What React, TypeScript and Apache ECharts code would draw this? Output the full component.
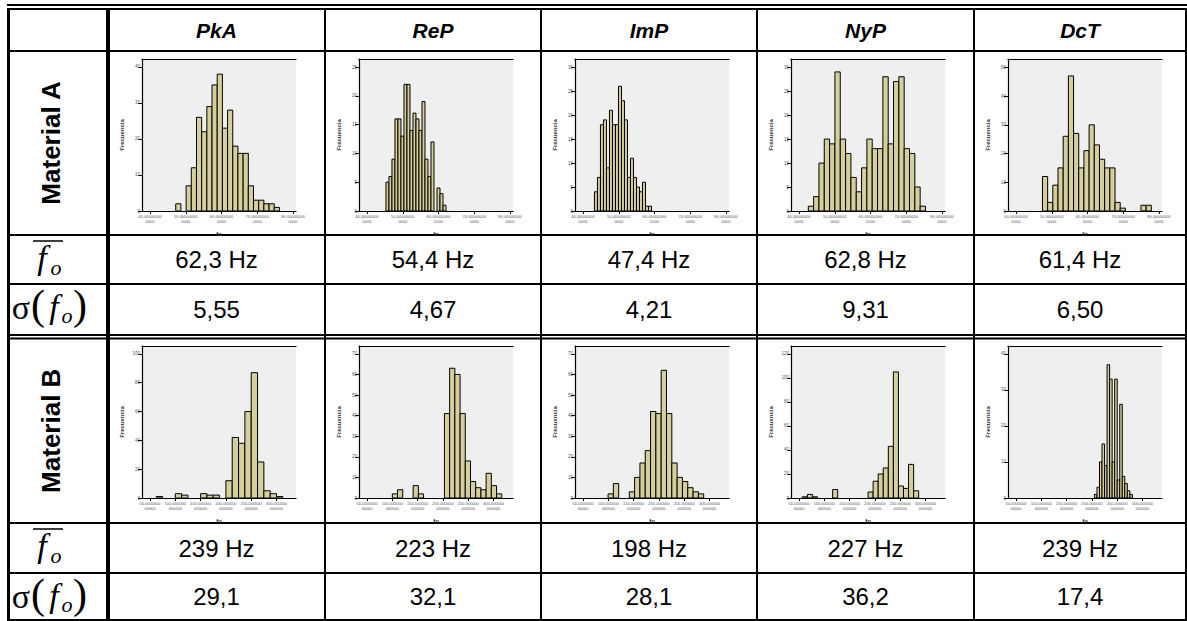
import { useEffect, useRef } from "react";
import * as echarts from "echarts";

const COLUMNS = ["PkA", "ReP", "ImP", "NyP", "DcT"];
const ROWS = ["Material A", "Material B"];
const MEAN_A = ["62,3 Hz", "54,4 Hz", "47,4 Hz", "62,8 Hz", "61,4 Hz"];
const SD_A = ["5,55", "4,67", "4,21", "9,31", "6,50"];
const MEAN_B = ["239 Hz", "223 Hz", "198 Hz", "227 Hz", "239 Hz"];
const SD_B = ["29,1", "32,1", "28,1", "36,2", "17,4"];

const A_X_TICKS = [40, 50, 60, 70, 80];
const A_X_LABELS = ["40,00000000\n0000", "50,00000000\n0000", "60,00000000\n0000", "70,00000000\n0000", "80,00000000\n0000"];
const A_X_RANGE = [37.76, 80.84];
const B_X_TICKS = [50, 100, 150, 200, 250, 300];
const B_X_LABELS = ["50,0000000\n00000", "100,000000\n000000", "150,000000\n000000", "200,000000\n000000", "250,000000\n000000", "300,000000\n000000"];
const B_X_RANGE = [34.2, 338.5];

// Material A histograms: bin start, bin width, counts
const PKA_A_START = 47.2;
const PKA_A_WIDTH = 1.45;
const PKA_A_COUNTS = [2, 0, 7, 12, 26, 22, 29, 35, 38, 23, 28, 18, 16, 16, 7, 3, 3, 2, 2, 1];
const PKA_A_YTICKS = [0, 10, 20, 30, 40];
const PKA_A_YMAX = 42.2;

const REP_A_START = 45.3;
const REP_A_WIDTH = 0.84;
const REP_A_COUNTS = [5, 6, 9, 16, 16, 13, 22, 22, 14, 17, 16, 14, 19, 9, 6, 12, 0, 4, 3, 1];
const REP_A_YTICKS = [0, 5, 10, 15, 20, 25];
const REP_A_YMAX = 26.4;

const IMP_A_START = 43.2;
const IMP_A_WIDTH = 0.84;
const IMP_A_COUNTS = [4, 7, 18, 19, 9, 21, 18, 18, 26, 23, 19, 7, 11, 7, 5, 4, 6, 1, 1];
const IMP_A_YTICKS = [0, 5, 10, 15, 20, 25, 30];
const IMP_A_YMAX = 31.7;

const NYP_A_START = 42.6;
const NYP_A_WIDTH = 1.49;
const NYP_A_COUNTS = [1, 3, 10, 15, 14, 29, 15, 12, 7, 4, 9, 15, 13, 13, 28, 14, 27, 28, 13, 12, 5, 1];
const NYP_A_YTICKS = [0, 5, 10, 15, 20, 25, 30];
const NYP_A_YMAX = 31.7;

const DCT_A_START = 47.4;
const DCT_A_WIDTH = 1.45;
const DCT_A_COUNTS = [12, 3, 9, 15, 26, 47, 27, 15, 21, 30, 23, 18, 15, 15, 3, 1, 0, 0, 0, 2, 2];
const DCT_A_YTICKS = [0, 10, 20, 30, 40, 50];
const DCT_A_YMAX = 52.9;

// Material B histograms
const PKA_B_START = 62.5;
const PKA_B_WIDTH = 12.5;
const PKA_B_COUNTS = [1, 0, 0, 3, 2, 0, 0, 3, 2, 2, 0, 12, 42, 38, 60, 87, 25, 5, 3, 1];
const PKA_B_YTICKS = [0, 20, 40, 60, 80, 100];
const PKA_B_YMAX = 105.5;

const REP_B_START = 100;
const REP_B_WIDTH = 10.3;
const REP_B_COUNTS = [2, 4, 0, 0, 6, 2, 0, 0, 0, 0, 41, 63, 60, 41, 18, 8, 5, 4, 12, 6, 2];
const REP_B_YTICKS = [0, 10, 20, 30, 40, 50, 60, 70];
const REP_B_YMAX = 73.8;

const IMP_B_START = 99.5;
const IMP_B_WIDTH = 10.5;
const IMP_B_COUNTS = [2, 7, 0, 0, 3, 10, 17, 23, 42, 41, 62, 41, 17, 10, 8, 5, 3, 2];
const IMP_B_YTICKS = [0, 10, 20, 30, 40, 50, 60, 70];
const IMP_B_YMAX = 73.8;

const NYP_B_START = 56.5;
const NYP_B_WIDTH = 10;
const NYP_B_COUNTS = [1, 3, 1, 0, 0, 0, 7, 0, 0, 0, 0, 0, 0, 5, 14, 20, 25, 43, 105, 10, 8, 28, 6];
const NYP_B_YTICKS = [0, 20, 40, 60, 80, 100, 120];
const NYP_B_YMAX = 126.6;

const DCT_B_START = 205;
const DCT_B_WIDTH = 5;
const DCT_B_COUNTS = [1, 3, 10, 15, 9, 37, 33, 10, 33, 5, 26, 6, 4, 2, 1];
const DCT_B_YTICKS = [0, 10, 20, 30, 40];
const DCT_B_YMAX = 42.2;

const HISTS = [
  { start: PKA_A_START, width: PKA_A_WIDTH, counts: PKA_A_COUNTS, yTicks: PKA_A_YTICKS, yMax: PKA_A_YMAX, row: 0 },
  { start: REP_A_START, width: REP_A_WIDTH, counts: REP_A_COUNTS, yTicks: REP_A_YTICKS, yMax: REP_A_YMAX, row: 0 },
  { start: IMP_A_START, width: IMP_A_WIDTH, counts: IMP_A_COUNTS, yTicks: IMP_A_YTICKS, yMax: IMP_A_YMAX, row: 0 },
  { start: NYP_A_START, width: NYP_A_WIDTH, counts: NYP_A_COUNTS, yTicks: NYP_A_YTICKS, yMax: NYP_A_YMAX, row: 0 },
  { start: DCT_A_START, width: DCT_A_WIDTH, counts: DCT_A_COUNTS, yTicks: DCT_A_YTICKS, yMax: DCT_A_YMAX, row: 0 },
  { start: PKA_B_START, width: PKA_B_WIDTH, counts: PKA_B_COUNTS, yTicks: PKA_B_YTICKS, yMax: PKA_B_YMAX, row: 1 },
  { start: REP_B_START, width: REP_B_WIDTH, counts: REP_B_COUNTS, yTicks: REP_B_YTICKS, yMax: REP_B_YMAX, row: 1 },
  { start: IMP_B_START, width: IMP_B_WIDTH, counts: IMP_B_COUNTS, yTicks: IMP_B_YTICKS, yMax: IMP_B_YMAX, row: 1 },
  { start: NYP_B_START, width: NYP_B_WIDTH, counts: NYP_B_COUNTS, yTicks: NYP_B_YTICKS, yMax: NYP_B_YMAX, row: 1 },
  { start: DCT_B_START, width: DCT_B_WIDTH, counts: DCT_B_COUNTS, yTicks: DCT_B_YTICKS, yMax: DCT_B_YMAX, row: 1 },
];

// layout
const COL_X = [108, 325, 541, 757, 974, 1186];
const ROW_LINES = { top1: 5, top2: 9, header: 51, aHist: 235, aMean: 284, aSd1: 335, aSd2: 338.5, bHist: 523, bMean: 573, bottom: 620 };
const HIST_TOP = [ROW_LINES.header + 8, ROW_LINES.aSd2 + 7.5];
const BAR_FILL = "#d5cf9c";
const SANS = "Liberation Sans, Arial, sans-serif";
const SERIF = "Liberation Serif, Times New Roman, serif";

function buildOption() {
  const grids: any[] = [];
  const xAxes: any[] = [];
  const yAxes: any[] = [];
  const series: any[] = [];
  HISTS.forEach((h, i) => {
    const col = i % 5;
    const isA = h.row === 0;
    grids.push({
      left: COL_X[col] + 34,
      top: HIST_TOP[h.row],
      width: 154,
      height: 152,
      show: true,
      backgroundColor: "#efefef",
      borderWidth: 0,
      containLabel: false,
    });
    const ticks = isA ? A_X_TICKS : B_X_TICKS;
    const labels = isA ? A_X_LABELS : B_X_LABELS;
    const range = isA ? A_X_RANGE : B_X_RANGE;
    xAxes.push({
      type: "value",
      gridIndex: i,
      min: range[0],
      max: range[1],
      name: "fo",
      nameLocation: "middle",
      nameGap: 20,
      nameTextStyle: { fontSize: 6, fontFamily: SANS, color: "#222", fontWeight: "bold" },
      axisLine: { show: true, onZero: false, lineStyle: { color: "#000", width: 1.2 } },
      axisTick: { show: true, length: 3, lineStyle: { color: "#000", width: 1 }, customValues: ticks },
      axisLabel: {
        show: true,
        customValues: ticks,
        fontSize: 4,
        lineHeight: 5,
        color: "#555",
        fontFamily: SANS,
        margin: 3,
        formatter: (v: number) => labels[ticks.indexOf(Math.round(v))] ?? "",
      },
      splitLine: { show: false },
    });
    xAxes.push({
      type: "value",
      gridIndex: i,
      position: "top",
      min: range[0],
      max: range[1],
      axisLine: { show: true, onZero: false, lineStyle: { color: "#000", width: 1.2 } },
      axisTick: { show: false },
      axisLabel: { show: false },
      splitLine: { show: false },
    });
    yAxes.push({
      type: "value",
      gridIndex: i,
      min: 0,
      max: h.yMax,
      name: "Frecuencia",
      nameLocation: "middle",
      nameGap: 17,
      nameRotate: 90,
      nameTextStyle: { fontSize: 6, fontFamily: SANS, color: "#333", fontWeight: "bold" },
      axisLine: { show: true, lineStyle: { color: "#000", width: 1.2 } },
      axisTick: { show: true, length: 4, lineStyle: { color: "#000", width: 1 }, customValues: h.yTicks },
      axisLabel: { show: true, customValues: h.yTicks, fontSize: 4.5, color: "#555", fontFamily: SANS, margin: 2 },
      splitLine: { show: false },
    });
    const data = h.counts
      .map((c, k) => [h.start + k * h.width, h.start + (k + 1) * h.width, c])
      .filter((d) => d[2] > 0);
    series.push({
      type: "custom",
      xAxisIndex: i * 2,
      yAxisIndex: i,
      data,
      encode: { x: [0, 1], y: 2 },
      clip: false,
      renderItem: (params: any, api: any) => {
        const p0 = api.coord([api.value(0), api.value(2)]);
        const p1 = api.coord([api.value(1), 0]);
        return {
          type: "rect",
          shape: { x: p0[0], y: p0[1], width: p1[0] - p0[0], height: p1[1] - p0[1] },
          style: { fill: BAR_FILL, stroke: "#000", lineWidth: 1 },
        };
      },
    });
  });

  const g: any[] = [];
  const hline = (y: number, x1: number, x2: number, w: number) =>
    g.push({ type: "line", shape: { x1, y1: y, x2, y2: y }, style: { stroke: "#000", lineWidth: w }, silent: true });
  const vline = (x: number, y1: number, y2: number, w: number) =>
    g.push({ type: "line", shape: { x1: x, y1, x2: x, y2 }, style: { stroke: "#000", lineWidth: w }, silent: true });

  const L = 8.5;
  const R = COL_X[5];
  hline(ROW_LINES.top1, 7, R + 1, 2);
  hline(ROW_LINES.top2, 7, R + 1, 2);
  hline(ROW_LINES.header, 7, R + 1, 2);
  hline(ROW_LINES.aHist, 7, R + 1, 2);
  hline(ROW_LINES.aMean, 7, R + 1, 2);
  hline(ROW_LINES.aSd1, 7, R + 1, 2);
  hline(ROW_LINES.aSd2, 7, R + 1, 2);
  hline(ROW_LINES.bHist, 7, R + 1, 2);
  hline(ROW_LINES.bMean, 7, R + 1, 2);
  hline(ROW_LINES.bottom, 7, R + 1, 2);
  vline(L, ROW_LINES.top2, ROW_LINES.bottom, 3);
  vline(COL_X[0], ROW_LINES.top2, ROW_LINES.bottom, 4);
  for (let c = 1; c < 5; c++) vline(COL_X[c], ROW_LINES.top2, ROW_LINES.bottom, 2);
  vline(R, ROW_LINES.top2, ROW_LINES.bottom, 2);

  const text = (x: number, y: number, t: string, font: string, extra: any = {}) =>
    g.push({
      type: "text",
      x,
      y,
      silent: true,
      style: { text: t, font, fill: "#000", textAlign: "center", textVerticalAlign: "middle", ...extra },
    });

  COLUMNS.forEach((c, i) => {
    const cx = (COL_X[i] + COL_X[i + 1]) / 2;
    text(cx, 30, c, `italic bold 21px ${SANS}`);
    text(cx, (ROW_LINES.aHist + ROW_LINES.aMean) / 2, MEAN_A[i], `24px ${SANS}`);
    text(cx, (ROW_LINES.aMean + ROW_LINES.aSd1) / 2, SD_A[i], `24px ${SANS}`);
    text(cx, (ROW_LINES.bHist + ROW_LINES.bMean) / 2, MEAN_B[i], `24px ${SANS}`);
    text(cx, (ROW_LINES.bMean + ROW_LINES.bottom) / 2, SD_B[i], `24px ${SANS}`);
  });

  [[ROW_LINES.header, ROW_LINES.aHist], [ROW_LINES.aSd2, ROW_LINES.bHist]].forEach(([t, b], i) => {
    g.push({
      type: "text",
      x: 51,
      y: (t + b) / 2,
      rotation: Math.PI / 2,
      silent: true,
      style: { text: ROWS[i], font: `bold 26px ${SANS}`, fill: "#000", textAlign: "center", textVerticalAlign: "middle" },
    });
  });

  [ROW_LINES.aHist, ROW_LINES.bHist].forEach((top) => {
    g.push({ type: "line", shape: { x1: 33, y1: top + 6, x2: 63, y2: top + 6 }, style: { stroke: "#000", lineWidth: 1.5 }, silent: true });
    text(42, top + 22, "f", `italic 34px ${SERIF}`);
    text(56, top + 32, "o", `italic 22px ${SERIF}`);
  });
  [ROW_LINES.aMean, ROW_LINES.bMean].forEach((top) => {
    text(21, top + 23, "σ", `34px ${SERIF}`);
    text(38, top + 21, "(", `42px ${SERIF}`);
    text(54, top + 22, "f", `italic 34px ${SERIF}`);
    text(67, top + 31, "o", `italic 22px ${SERIF}`);
    text(80, top + 21, ")", `42px ${SERIF}`);
  });

  return {
    animation: false,
    backgroundColor: "#ffffff",
    grid: grids,
    xAxis: xAxes,
    yAxis: yAxes,
    series,
    graphic: g,
  };
}

export default function App() {
  const ref = useRef<HTMLDivElement>(null);
  useEffect(() => {
    if (!ref.current) return;
    const chart = echarts.init(ref.current, undefined, { renderer: "svg" });
    chart.setOption(buildOption() as any);
    return () => chart.dispose();
  }, []);
  return (
    <div
      ref={ref}
      style={{ position: "fixed", left: 0, top: 0, width: 1187, height: 621, background: "#fff" }}
    />
  );
}
